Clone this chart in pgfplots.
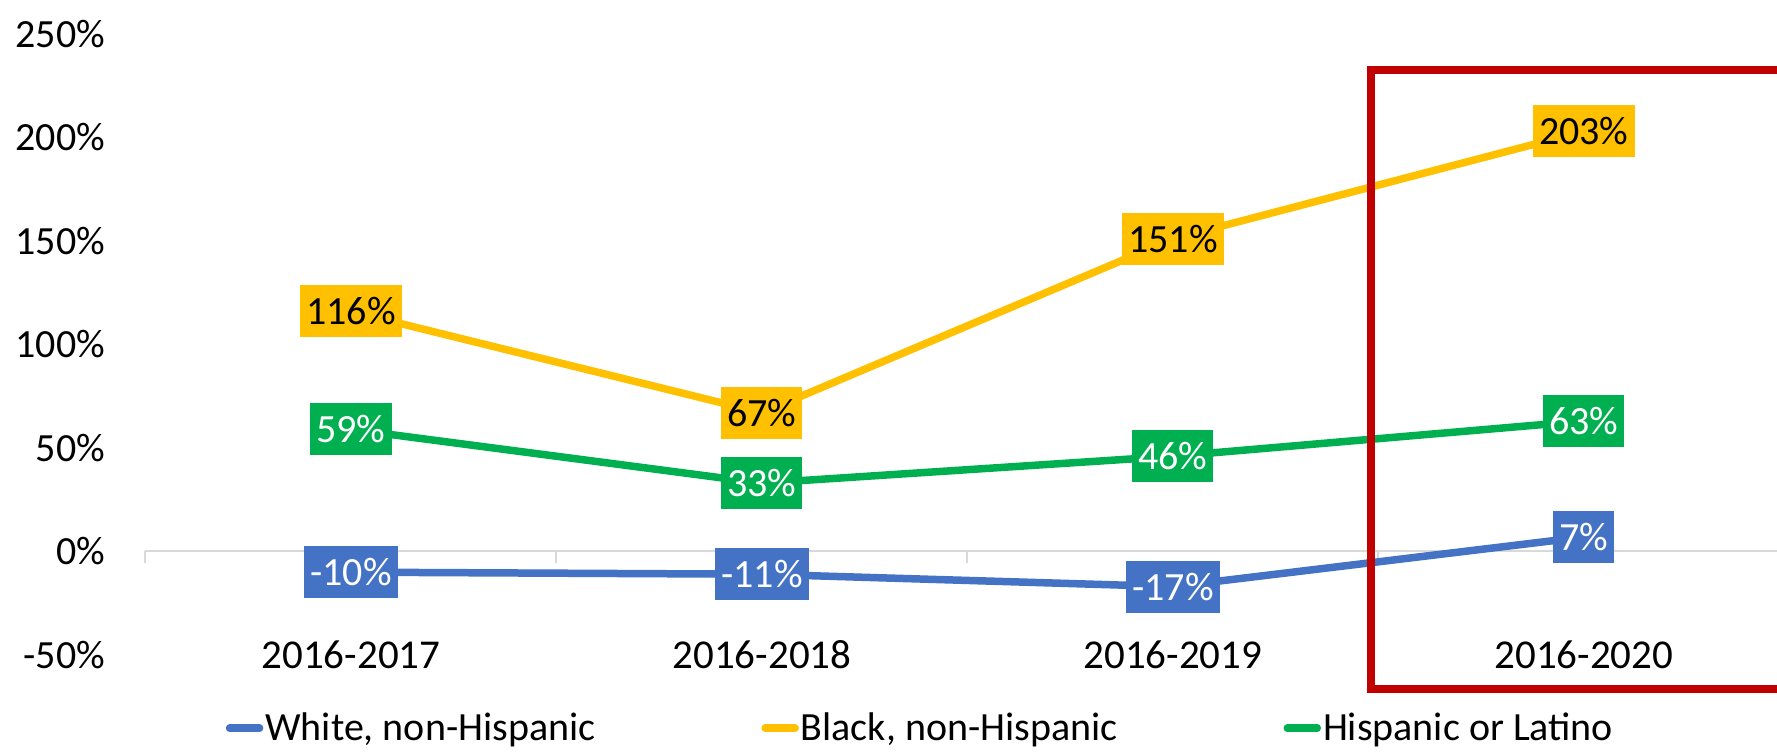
\documentclass[border=0pt]{standalone}
\usepackage{fontspec}
\setmainfont{Carlito}
\usepackage{pgfplots}
\pgfplotsset{compat=1.18}
\definecolor{cwhite}{HTML}{4472C4}
\definecolor{cblack}{HTML}{FFC000}
\definecolor{chisp}{HTML}{00B050}
\definecolor{cred}{HTML}{C00000}
\definecolor{cgrid}{HTML}{D9D9D9}
\newcommand{\lblfont}{\fontsize{20}{24}\selectfont}

\begin{document}
\begin{tikzpicture}
\begin{axis}[
  scale only axis,
  width=815.75pt, height=310.5pt,
  xmin=-0.5, xmax=3.47,
  ymin=-50, ymax=250,
  axis line style={draw=none},
  major tick style={draw=none},
  xtick={0,1,2,3},
  xticklabels={2016-2017,2016-2018,2016-2019,2016-2020},
  xticklabel style={anchor=center, inner sep=0pt, font=\fontsize{20.5}{24}\selectfont},
  ytick={-50,0,50,100,150,200,250},
  yticklabels={-50\%,0\%,50\%,100\%,150\%,200\%,250\%},
  yticklabel style={anchor=east, inner sep=0pt, xshift=-20pt, font=\lblfont},
  clip=false,
  legend columns=3,
  legend style={draw=none, inner sep=0pt, at={(0.049,-0.118)}, anchor=west,
    font=\lblfont, nodes={inner sep=1pt},
    /tikz/every even column/.append style={column sep=82pt}},
  legend image code/.code={\draw[#1, line cap=round] (2pt,0pt) -- (17pt,0pt);},
  point meta=explicit symbolic,
  nodes near coords,
  every node near coord/.append style={anchor=center, font=\lblfont,
    inner xsep=3pt, inner ysep=0pt, minimum height=26pt},
]
% zero line with category ticks
\draw[cgrid, line width=1pt] (axis cs:-0.5,0) -- (axis cs:3.6,0);
\draw[cgrid, line width=1pt] (axis cs:-0.5,0) -- ++(0pt,-6pt);
\draw[cgrid, line width=1pt] (axis cs:0.5,0) -- ++(0pt,-6pt);
\draw[cgrid, line width=1pt] (axis cs:1.5,0) -- ++(0pt,-6pt);
\draw[cgrid, line width=1pt] (axis cs:2.5,0) -- ++(0pt,-6pt);

\addplot[color=cwhite, line width=3.75pt,
  every node near coord/.append style={fill=cwhite, text=white}]
  coordinates {(0,-10) [-10\%] (1,-11) [-11\%] (2,-17) [-17\%] (3,7) [7\%]};
\addlegendentry{White, non-Hispanic}

\addplot[color=cblack, line width=3.75pt,
  every node near coord/.append style={fill=cblack, text=black}]
  coordinates {(0,116) [116\%] (1,67) [67\%] (2,151) [151\%] (3,203) [203\%]};
\addlegendentry{Black, non-Hispanic}

\addplot[color=chisp, line width=3.75pt,
  every node near coord/.append style={fill=chisp, text=white}]
  coordinates {(0,59) [59\%] (1,33) [33\%] (2,46) [46\%] (3,63) [63\%]};
\addlegendentry{Hispanic or Latino}

% highlight box
\draw[cred, line width=4pt] (axis cs:3.6,232.6) -- (axis cs:2.482,232.6)
  -- (axis cs:2.482,-66.4) -- (axis cs:3.6,-66.4);

\coordinate (tl) at (axis cs:-0.854,266.4);
\coordinate (br) at (axis cs:3.47,-98.8);
\end{axis}
\pgfresetboundingbox
\useasboundingbox (tl) rectangle (br);
\end{tikzpicture}
\end{document}
